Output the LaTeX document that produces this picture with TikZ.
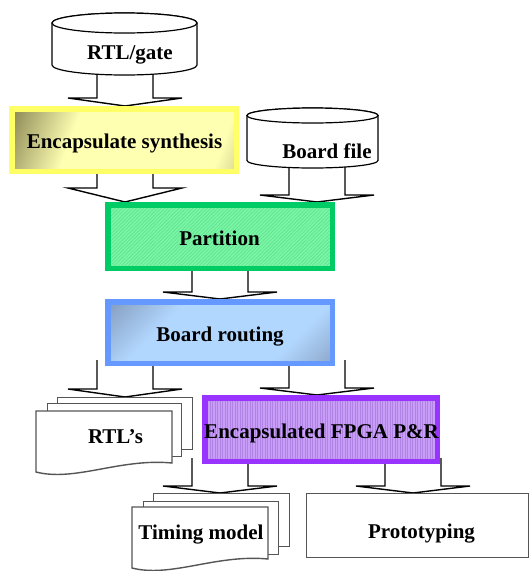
\documentclass[tikz,border=0pt]{standalone}
\usepackage{fontspec}
\setmainfont{Liberation Serif}
\usetikzlibrary{calc,patterns.meta}
\pgfdeclarelayer{bg}
\pgfsetlayers{bg,main}
\definecolor{ylight}{RGB}{255,255,178}
\definecolor{yolive}{RGB}{140,135,85}
\definecolor{yborder}{RGB}{255,255,102}
\definecolor{gborder}{RGB}{0,204,102}
\definecolor{gfill}{RGB}{120,245,165}
\definecolor{gstripe}{RGB}{95,220,140}
\definecolor{bborder}{RGB}{102,153,255}
\definecolor{blight}{RGB}{178,215,255}
\definecolor{bdark}{RGB}{125,148,180}
\definecolor{pborder}{RGB}{153,51,255}
\definecolor{pfill}{RGB}{200,158,248}
\definecolor{pstripe}{RGB}{175,130,228}
\definecolor{docgray}{RGB}{85,85,85}
\pgfdeclarehorizontalshading{encsh}{100bp}{color(0bp)=(yolive); color(18bp)=(yolive); color(36bp)=(ylight); color(76bp)=(ylight); color(96bp)=(yolive); color(100bp)=(yolive)}
\pgfdeclarehorizontalshading{routesh}{100bp}{color(0bp)=(bdark); color(12bp)=(bdark); color(34bp)=(blight); color(70bp)=(blight); color(92bp)=(bdark); color(100bp)=(bdark)}
\newcommand\barrow[4]{%
  \begin{pgfonlayer}{bg}
  \path[barr] let \p1=(#2.south), \p2=(#3) in
   (#1pt-28pt,\y1+6pt) -- (#1pt-28pt,\y2+#4pt) -- (#1pt-57pt,\y2+#4pt) -- (#1pt,\y2)
   -- (#1pt+57pt,\y2+#4pt) -- (#1pt+28pt,\y2+#4pt) -- (#1pt+28pt,\y1+6pt);
  \end{pgfonlayer}}
\begin{document}
\begin{tikzpicture}[x=1pt,y=1pt,
  lbl/.style={font=\fontsize{21}{24}\selectfont\bfseries, inner sep=0pt, anchor=base},
  box/.style={line width=5.5pt, inner sep=0pt},
  doc/.style={draw=docgray, line width=1.4pt, fill=white, inner sep=0pt},
  cyl/.style={draw=black, line width=1.2pt, fill=white},
  barr/.style={draw=black, line width=1.4pt, fill=white, line join=miter}]
\useasboundingbox (0,0) rectangle (531,-571);

% cylinders
\path[cyl] (52,-23) -- (52,-65) arc[start angle=180,end angle=360,x radius=72.5,y radius=10]
  -- (197,-23) arc[start angle=0,end angle=180,x radius=72.5,y radius=10] -- cycle;
\draw[cyl] (124.5,-23) ellipse[x radius=72.5,y radius=10];
\node[inner sep=0pt, minimum width=145, minimum height=62] (rtl) at (124.5,-44) {};
\node[lbl] (trtl) at (130,-59) {RTL/gate};

\path[cyl] (247,-115.5) -- (247,-160.5) arc[start angle=180,end angle=360,x radius=65.5,y radius=7.5]
  -- (378,-115.5) arc[start angle=0,end angle=180,x radius=65.5,y radius=7.5] -- cycle;
\draw[cyl] (312.5,-115.5) ellipse[x radius=65.5,y radius=7.5];
\node[inner sep=0pt, minimum width=131, minimum height=60] (brd) at (312.5,-138) {};
\node[lbl] (tbrd) at (327,-158) {Board file};

% process boxes
\node[box, draw=yborder, shading=encsh, shading angle=-20, minimum width=224.5, minimum height=62.5] (enc) at (124,-140) {};
\node[lbl] (tenc) at (124.5,-148) {Encapsulate synthesis};

\node[box, draw=gborder, preaction={fill=gfill}, preaction={pattern={Lines[angle=45,distance=2.5pt,line width=0.5pt]}, pattern color=gstripe}, minimum width=224.5, minimum height=63.5] (part) at (220,-236.5) {};
\node[lbl] (tpart) at (219.5,-245) {Partition};

\node[box, draw=bborder, shading=routesh, shading angle=-45, minimum width=224.5, minimum height=61.5] (route) at (220,-332.5) {};
\node[lbl] (troute) at (220,-341) {Board routing};

\node[box, draw=pborder, preaction={fill=pfill}, preaction={pattern={Lines[angle=90,distance=2.5pt,line width=0.6pt]}, pattern color=pstripe}, minimum width=232.5, minimum height=63.5] (fpga) at (321,-429.5) {};
\node[lbl] (tfpga) at (321.5,-438) {Encapsulated FPGA P\&R};

\node[draw=docgray, line width=1.4pt, inner sep=0pt, minimum width=221.6, minimum height=63.6] (proto) at (417.5,-525.5) {};
\node[lbl] (tproto) at (421.5,-538) {Prototyping};

% RTL's document stack
\node[doc, minimum width=134.6, minimum height=51.6] (rtlsb) at (125,-423.5) {};
\node[doc, minimum width=133.6, minimum height=52.6] (rtlsm) at (114.5,-430) {};
\path[doc] (36,-411) -- (172,-411) -- (172,-463) .. controls (120,-458) and (75,-482) .. (36,-472) -- cycle;
\node[lbl] (rtls) at (115.5,-443) {RTL’s};

% Timing model document stack
\node[doc, minimum width=135.6, minimum height=52.6] (timb) at (221.5,-520) {};
\node[doc, minimum width=134.6, minimum height=52.6] (timm) at (211,-528) {};
\path[doc] (132,-507) -- (268,-507) -- (268,-559) .. controls (216,-554) and (171,-578) .. (132,-568) -- cycle;
\node[lbl] (tim) at (201,-539) {Timing model};

% block arrows
\barrow{125}{rtl}{enc.north}{8}
\barrow{125}{enc}{part.north}{14}
\barrow{317}{brd}{part.north}{7}
\barrow{220}{part}{route.north}{7}
\barrow{125}{route}{rtlsb.north}{8}
\barrow{317}{route}{fpga.north}{7}
\barrow{220}{fpga}{timb.north}{7}
\barrow{413}{fpga}{proto.north}{7}
\end{tikzpicture}
\end{document}
